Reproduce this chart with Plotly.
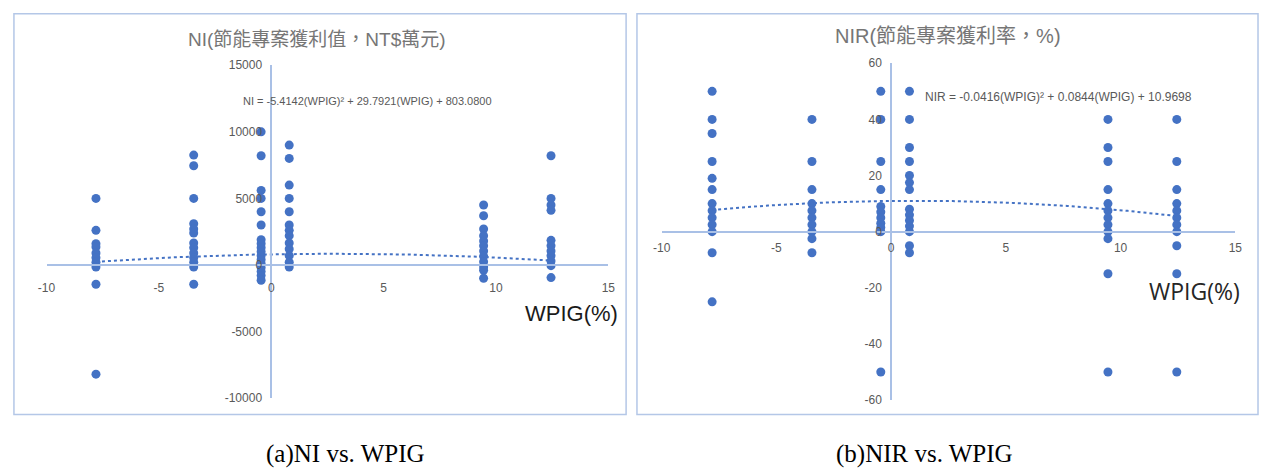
import numpy as np
import plotly.graph_objects as go

W, H = 1266, 475

# ---------------- data ----------------
wpig_levels = [-7.8, -3.45, -0.45, 0.8, 9.45, 12.45]

ni_m78 = [5000, 2600, 1600, 1350, 900, 550, 200, -150, -1450, -8200]
ni_m345 = [8250, 7450, 5000, 3100, 2700, 2400, 1650, 1300, 900, 550, 200, -150, -1450]
ni_m045 = [10000, 8200, 5600, 5000, 4000, 3000, 1900, 1600, 1300, 1000, 700, 400, 100, -200, -500, -800, -1150]
ni_p08 = [9000, 8000, 6000, 5000, 4000, 3000, 2600, 2200, 1650, 1200, 700, 200, -150]
ni_p945 = [4500, 3700, 2700, 2200, 1800, 1450, 1050, 650, 250, -150, -400, -1000]
ni_p1245 = [8200, 5000, 4500, 4100, 1850, 1450, 1050, 700, 300, -50, -950]

nir_m78 = [50, 40, 35, 25, 19, 15, 10, 7.5, 5, 2.5, 0, -7.5, -25]
nir_m345 = [40, 25, 15, 10, 7.5, 5, 2.5, 0, -2.5, -7.5]
nir_m045 = [50, 40, 25, 15, 9, 7, 5, 3, 1.5, 0, -50]
nir_p08 = [50, 40, 30, 25, 20, 17.5, 15, 8, 6, 4, 2, 0, -5, -7.5]
nir_p945 = [40, 30, 25, 15, 10, 7.5, 5, 2.5, 0, -2.5, -15, -50]
nir_p1245 = [40, 25, 15, 10, 7.5, 5, 2.5, 0, -5, -15, -50]

ni_groups = [ni_m78, ni_m345, ni_m045, ni_p08, ni_p945, ni_p1245]
nir_groups = [nir_m78, nir_m345, nir_m045, nir_p08, nir_p945, nir_p1245]

# displayed trendline coefficients (a*x^2 + b*x + c)
ni_coef = [-5.4142, 29.7921, 803.0800]
nir_coef = [-0.0416, 0.0844, 10.9698]

x_tickvals = [-10, -5, 0, 5, 10, 15]
x_ticktext = ["-10", "-5", "0", "5", "10", "15"]
ni_tickvals = [-10000, -5000, 0, 5000, 10000, 15000]
ni_ticktext = ["-10000", "-5000", "0", "5000", "10000", "15000"]
nir_tickvals = [-60, -40, -20, 0, 20, 40, 60]
nir_ticktext = ["-60", "-40", "-20", "0", "20", "40", "60"]

title_ni = "NI(節能專案獲利值，NT$萬元)"
title_nir = "NIR(節能專案獲利率，%)"
eq_ni = "NI = -5.4142(WPIG)² + 29.7921(WPIG) + 803.0800"
eq_nir = "NIR = -0.0416(WPIG)² + 0.0844(WPIG) + 10.9698"
cap_a = "(a)NI vs. WPIG"
cap_b = "(b)NIR vs. WPIG"
xlabel = "WPIG(%)"

# ---------------- styles ----------------
DOT = "#4472C4"
AXIS = "#A9C0E6"
TICK = "#595959"
FONT = "Liberation Sans Narrow, Liberation Sans, Noto Sans CJK TC, sans-serif"


def px(x):
    return x / W


def py(y):
    return 1 - y / H


def flat(groups):
    xs, ys = [], []
    for xv, g in zip(wpig_levels, groups):
        xs += [xv] * len(g)
        ys += list(g)
    return xs, ys


fig = go.Figure()

trend_x = np.linspace(min(wpig_levels), max(wpig_levels), 200)

for groups, coef, xa, ya in [(ni_groups, ni_coef, "x", "y"), (nir_groups, nir_coef, "x2", "y2")]:
    xs, ys = flat(groups)
    fig.add_trace(go.Scatter(x=xs, y=ys, mode="markers", xaxis=xa, yaxis=ya,
                             marker=dict(size=9, color=DOT), showlegend=False,
                             cliponaxis=False))
    fig.add_trace(go.Scatter(x=trend_x, y=np.polyval(coef, trend_x), mode="lines",
                             xaxis=xa, yaxis=ya, line=dict(color=DOT, width=2, dash="dot"),
                             showlegend=False))

# domains
L_xd = [px(38), px(607)]
L_yd = [py(403), py(60)]
R_xd = [px(661), px(1242)]
R_yd = [py(405), py(58)]


def frac(rng, v):
    return (v - rng[0]) / (rng[1] - rng[0])


L_xr, L_yr = [-10, 15], [-10000, 15000]
R_xr, R_yr = [-10, 15], [-60, 60]

common = dict(showgrid=False, zeroline=False, showline=True, linecolor=AXIS, linewidth=1.5,
              ticks="", tickfont=dict(family=FONT, size=12, color=TICK), anchor="free")

fig.update_layout(
    width=W, height=H, margin=dict(l=0, r=0, t=0, b=0),
    paper_bgcolor="white", plot_bgcolor="rgba(0,0,0,0)",
    xaxis=dict(domain=L_xd, range=L_xr, tickvals=x_tickvals, ticktext=x_ticktext,
               position=L_yd[0] + frac(L_yr, 0) * (L_yd[1] - L_yd[0]),
               ticklabelstandoff=12, **common),
    yaxis=dict(domain=L_yd, range=L_yr, tickvals=ni_tickvals, ticktext=ni_ticktext,
               position=L_xd[0] + frac(L_xr, 0) * (L_xd[1] - L_xd[0]),
               ticklabelstandoff=6, **common),
    xaxis2=dict(domain=R_xd, range=R_xr, tickvals=x_tickvals, ticktext=x_ticktext,
                position=R_yd[0] + frac(R_yr, 0) * (R_yd[1] - R_yd[0]),
                ticklabelstandoff=5, **common),
    yaxis2=dict(domain=R_yd, range=R_yr, tickvals=nir_tickvals, ticktext=nir_ticktext,
                position=R_xd[0] + frac(R_xr, 0) * (R_xd[1] - R_xd[0]),
                ticklabelstandoff=6, **common),
)

shapes = [
    dict(type="rect", xref="paper", yref="paper", x0=px(5), x1=px(625), y0=py(420), y1=py(7),
         line=dict(color="#B4C7E7", width=1.5)),
    dict(type="rect", xref="paper", yref="paper", x0=px(636), x1=px(1265), y0=py(420), y1=py(7),
         line=dict(color="#B4C7E7", width=1.5)),
]
fig.update_layout(shapes=shapes)


def ann(text, x, y, size, color, family=FONT):
    return dict(text=text, x=px(x), y=py(y), xref="paper", yref="paper", showarrow=False,
                xanchor="center", yanchor="middle", font=dict(family=family, size=size, color=color))


annotations = [
    ann(title_ni, 312, 34, 19, "#767676"),
    ann(title_nir, 951, 30, 20, "#767676"),
    ann(eq_ni, 363, 97, 11, TICK),
    ann(eq_nir, 1063, 93, 12, TICK),
    ann(xlabel, 570, 316, 22, "#1a1a1a"),
    ann(xlabel, 1201, 293, 23, "#262626", "Open Sans, sans-serif"),
    ann(cap_a, 341, 461, 25, "#000000", "Liberation Serif, serif"),
    ann(cap_b, 927, 461, 25, "#000000", "Liberation Serif, serif"),
]
fig.update_layout(annotations=annotations)

fig.write_html("out.html")
